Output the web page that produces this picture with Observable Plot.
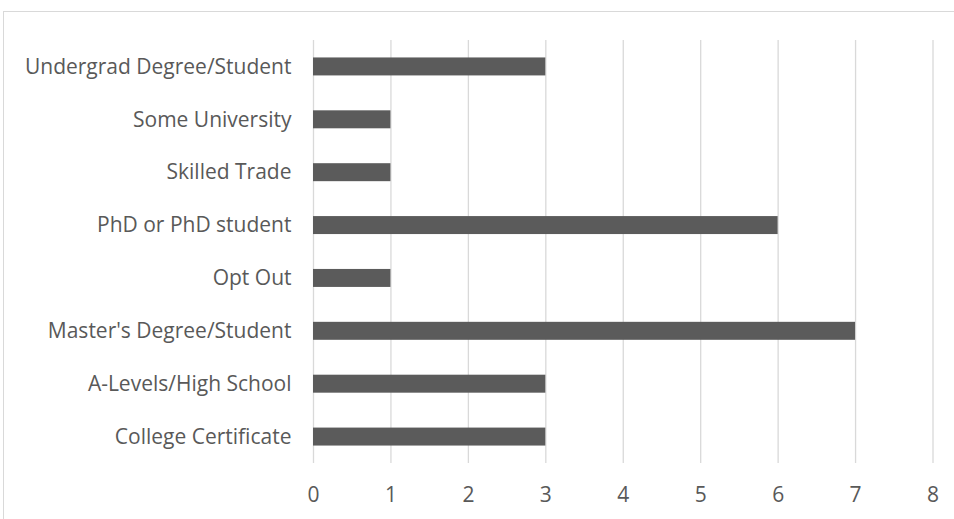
<!DOCTYPE html>
<html><head><meta charset="utf-8">
<script src="https://cdn.jsdelivr.net/npm/d3@7"></script>
<script src="https://cdn.jsdelivr.net/npm/@observablehq/plot@0.6"></script>
<style>
body{margin:0;background:#fff;overflow:hidden}
#wrap{position:relative;width:954px;height:519px;overflow:hidden}
#frame{position:absolute;left:3px;top:11px;width:1000px;height:1000px;border:1px solid #d9d9d9;box-sizing:border-box}
#chart{position:absolute;left:0;top:0}
#chart svg text{font-size:21px}
</style></head><body>
<div id="wrap"><div id="frame"></div><div id="chart"></div></div>
<script>
const categories = ["Undergrad Degree/Student","Some University","Skilled Trade","PhD or PhD student","Opt Out","Master's Degree/Student","A-Levels/High School","College Certificate"];
const counts = [3,1,1,6,1,7,3,3];
const xTicks = [0,1,2,3,4,5,6,7,8];
const data = categories.map((c,i)=>({category:c,count:counts[i]}));
const chart = Plot.plot({
  width:954, height:519,
  marginLeft:313, marginRight:21.5, marginTop:40, marginBottom:56,
  style:{fontFamily:"'Open Sans', sans-serif", fontSize:"21px", color:"#595959", background:"transparent"},
  x:{domain:[0,8], ticks:xTicks, tickSize:0, tickPadding:24, label:null, tickFormat:d=>String(d)},
  y:{domain:categories, paddingInner:0.66, paddingOuter:0.33, align:0.5, round:false, tickSize:0, tickPadding:22, label:null},
  marks:[
    Plot.gridX(xTicks,{stroke:"#d9d9d9", strokeOpacity:1, strokeWidth:1.3}),
    Plot.barX(data,{x:"count", y:"category", fill:"#5b5b5b"})
  ]
});
document.getElementById("chart").appendChild(chart);
</script>
</body></html>
